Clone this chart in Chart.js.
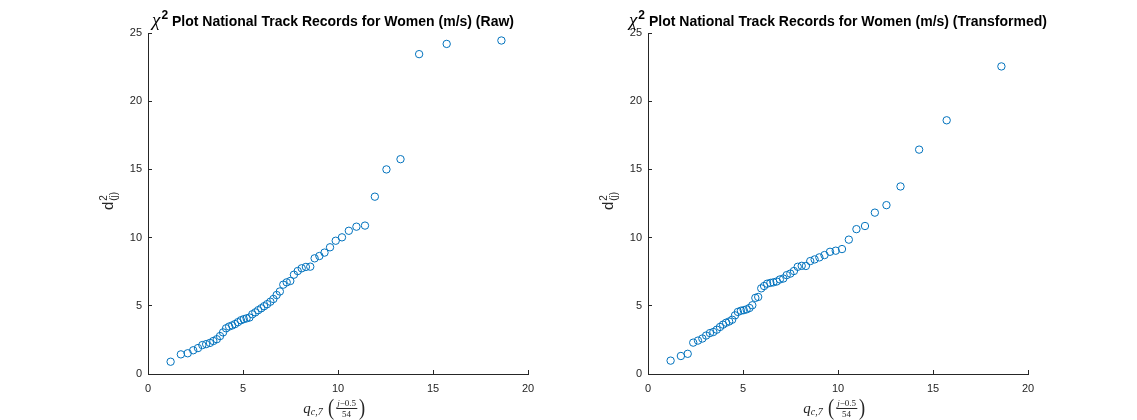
<!DOCTYPE html>
<html>
<head>
<meta charset="utf-8">
<script src="https://cdn.jsdelivr.net/npm/chart.js@4"></script>
<style>
  body { margin: 0; background: #fff; }
  #wrap { position: relative; width: 1137px; height: 420px; overflow: hidden; }
  .box { position: absolute; top: 0; width: 568px; height: 420px; }
  .ttl { position: absolute; top: 9px; transform: translateX(-50%); white-space: nowrap;
         font: bold 14px "Liberation Sans", Arial, sans-serif; color: #000; }
  .ttl .chi { font: italic 19px "Liberation Serif", "Times New Roman", serif; font-weight: normal; }
  .ttl sup { font-size: 12px; position: relative; top: -1px; vertical-align: top; margin-left: 1px; }
  .yl { position: absolute; top: 201px; transform: translate(-50%, -50%) rotate(-90deg);
        white-space: nowrap; font: 15px "Liberation Sans", Arial, sans-serif; color: #262626; }
  .yl .ss { display: inline-flex; flex-direction: column; vertical-align: middle; font-size: 10px; line-height: 10px; margin-left: 1px; }
  .xl { position: absolute; top: 395px; transform: translateX(-50%); white-space: nowrap;
        display: flex; align-items: center; font: italic 15px "Liberation Serif", "Times New Roman", serif; color: #262626; }
  .xl sub { font-size: 10px; font-style: italic; position: relative; top: 3px; }
  .xl .par { font-style: normal; font-size: 23px; margin: 0 1px; transform: scaleX(0.8); }
  .xl .frac { display: inline-flex; flex-direction: column; align-items: center; font-size: 9px; line-height: 10px; }
  .xl .frac .num { border-bottom: 1px solid #262626; padding: 0 1px; }
  .xl .up { font-style: normal; }
</style>
</head>
<body>
<div id="wrap">
  <div class="box" style="left:0"><canvas id="raw" width="568" height="420"></canvas></div>
  <div class="box" style="left:500px"><canvas id="trans" width="568" height="420"></canvas></div>

  <div class="ttl" style="left:333px"><span class="chi">χ</span><sup>2</sup> Plot National Track Records for Women (m/s) (Raw)</div>
  <div class="ttl" style="left:838px"><span class="chi">χ</span><sup>2</sup> Plot National Track Records for Women (m/s) (Transformed)</div>

  <div class="yl" style="left:109px">d<span class="ss"><span>2</span><span>(j)</span></span></div>
  <div class="yl" style="left:609px">d<span class="ss"><span>2</span><span>(j)</span></span></div>

  <div class="xl" style="left:335px">q<sub>c,7</sub>&nbsp;<span class="par">(</span><span class="frac"><span class="num">j<span class="up">−0.5</span></span><span class="up">54</span></span><span class="par">)</span></div>
  <div class="xl" style="left:835px">q<sub>c,7</sub>&nbsp;<span class="par">(</span><span class="frac"><span class="num">j<span class="up">−0.5</span></span><span class="up">54</span></span><span class="par">)</span></div>
</div>

<script>
// chi-square quantiles q_c,7((j-0.5)/54)
var quantiles = [1.19, 1.73, 2.09, 2.38, 2.63, 2.86, 3.06, 3.26, 3.44, 3.62,
  3.79, 3.95, 4.11, 4.27, 4.43, 4.58, 4.73, 4.89, 5.04, 5.19,
  5.34, 5.49, 5.65, 5.80, 5.96, 6.11, 6.27, 6.44, 6.60, 6.77,
  6.94, 7.12, 7.30, 7.49, 7.68, 7.88, 8.09, 8.31, 8.54, 8.77,
  9.02, 9.29, 9.58, 9.88, 10.21, 10.57, 10.97, 11.42, 11.94, 12.55,
  13.29, 14.27, 15.72, 18.60];

// ordered squared distances, raw data
var distRaw = [0.90, 1.44, 1.52, 1.74, 1.90, 2.12, 2.19, 2.28, 2.42, 2.55,
  2.78, 3.05, 3.35, 3.48, 3.56, 3.66, 3.80, 3.94, 4.02, 4.08,
  4.14, 4.38, 4.52, 4.68, 4.82, 4.97, 5.12, 5.30, 5.50, 5.79,
  6.05, 6.55, 6.72, 6.82, 7.28, 7.55, 7.75, 7.85, 7.87, 8.48,
  8.65, 8.90, 9.29, 9.77, 10.02, 10.50, 10.80, 10.88, 13.00, 15.00,
  15.75, 23.45, 24.20, 24.45];

// ordered squared distances, transformed data
var distTrans = [0.98, 1.32, 1.48, 2.30, 2.45, 2.60, 2.82, 3.00, 3.08, 3.25,
  3.45, 3.62, 3.76, 3.85, 3.98, 4.30, 4.55, 4.64, 4.68, 4.74,
  4.84, 5.04, 5.58, 5.65, 6.28, 6.45, 6.62, 6.68, 6.72, 6.78,
  6.93, 7.00, 7.25, 7.36, 7.55, 7.86, 7.93, 7.92, 8.28, 8.40,
  8.55, 8.72, 8.96, 9.04, 9.16, 9.85, 10.62, 10.85, 11.83, 12.38,
  13.75, 16.45, 18.60, 22.55];

var xTicks = [0, 5, 10, 15, 20];
var yTicks = [0, 5, 10, 15, 20, 25];

var axisColor = "#262626";
var tickFont = { family: "'Liberation Sans', Arial, sans-serif", size: 11 };

function makeChart(id, dist) {
  var pts = [];
  for (var i = 0; i < quantiles.length; ++i) {
    pts.push({ x: quantiles[i], y: dist[i] });
  }
  return new Chart(document.getElementById(id).getContext("2d"), {
    type: "scatter",
    data: {
      datasets: [{
        data: pts,
        borderColor: "#0072BD",
        backgroundColor: "rgba(0,0,0,0)",
        borderWidth: 1,
        pointRadius: 3.7,
        pointHoverRadius: 3.7,
        clip: false
      }]
    },
    options: {
      responsive: false,
      animation: false,
      events: [],
      layout: { padding: { left: 0, right: 40, top: 33, bottom: 0 } },
      plugins: { legend: { display: false }, tooltip: { enabled: false } },
      scales: {
        x: {
          type: "linear",
          min: xTicks[0],
          max: xTicks[xTicks.length - 1],
          afterBuildTicks: function (s) { s.ticks = xTicks.map(function (v) { return { value: v }; }); },
          afterFit: function (s) { s.height = 46; },
          ticks: { color: axisColor, font: tickFont, padding: 12, maxRotation: 0 },
          grid: { drawOnChartArea: false, tickLength: -4, color: axisColor },
          border: { color: axisColor, width: 1 }
        },
        y: {
          type: "linear",
          min: yTicks[0],
          max: yTicks[yTicks.length - 1],
          afterBuildTicks: function (s) { s.ticks = yTicks.map(function (v) { return { value: v }; }); },
          afterFit: function (s) { s.width = 148; },
          ticks: { color: axisColor, font: tickFont, padding: 10 },
          grid: { drawOnChartArea: false, tickLength: -4, color: axisColor },
          border: { color: axisColor, width: 1 }
        }
      }
    }
  });
}

makeChart("raw", distRaw);
makeChart("trans", distTrans);
</script>
</body>
</html>
